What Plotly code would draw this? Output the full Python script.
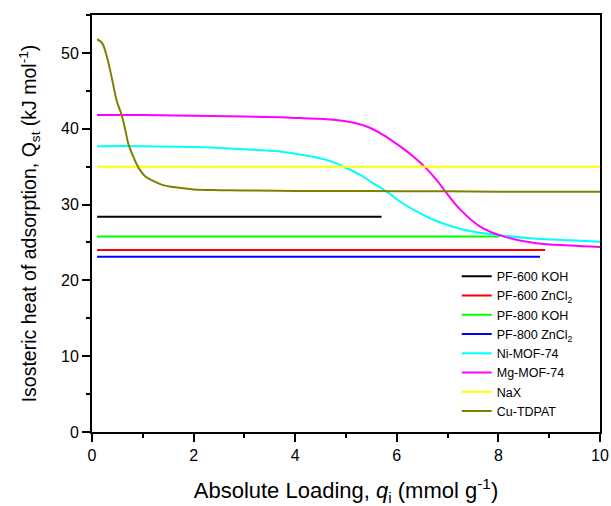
import plotly.graph_objects as go

# ---- data ----
pf600koh_x = [0.1, 5.7]
pf600koh_y = [28.4, 28.4]
pf600zn_x = [0.1, 8.92]
pf600zn_y = [24.0, 24.0]
pf800koh_x = [0.1, 8.02]
pf800koh_y = [25.8, 25.8]
pf800zn_x = [0.1, 8.82]
pf800zn_y = [23.1, 23.1]
ni_x = [0.1, 1.0, 2.0, 3.0, 3.7, 4.09, 4.42, 4.75, 4.95, 5.28, 5.54, 5.8, 6.06, 6.39, 6.72,
        7.05, 7.44, 8.1, 8.75, 9.41, 10.0]
ni_y = [37.7, 37.7, 37.6, 37.3, 37.0, 36.6, 36.2, 35.6, 35.0, 33.9, 32.8, 31.7, 30.4, 29.1, 28.0,
        27.2, 26.5, 25.9, 25.5, 25.3, 25.1]
mg_x = [0.1, 1.0, 2.0, 3.0, 3.7, 4.09, 4.75, 5.08, 5.41, 5.73, 6.06, 6.33, 6.56, 6.79, 6.98,
        7.24, 7.64, 8.1, 8.75, 9.41, 10.0]
mg_y = [41.8, 41.8, 41.7, 41.6, 41.5, 41.4, 41.2, 40.9, 40.3, 39.2, 37.7, 36.3, 34.9, 33.2, 31.5,
        29.4, 27.1, 25.8, 24.9, 24.6, 24.4]
nax_x = [0.1, 10.0]
nax_y = [35.0, 35.0]
cu_x = [0.1, 0.2, 0.3, 0.39, 0.49, 0.58, 0.66, 0.72, 0.82, 0.92, 1.05, 1.21, 1.38, 1.6, 2.0,
        2.5, 3.0, 4.0, 5.0, 6.0, 7.0, 8.0, 9.0, 10.0]
cu_y = [51.8, 51.3, 49.3, 46.7, 43.6, 41.9, 39.7, 37.9, 36.2, 34.8, 33.7, 33.1, 32.6, 32.3, 32.0,
        31.9, 31.85, 31.8, 31.8, 31.75, 31.75, 31.7, 31.7, 31.7]

series = [
    ("PF-600 KOH", pf600koh_x, pf600koh_y, "#000000"),
    ("PF-600 ZnCl<sub>2</sub>", pf600zn_x, pf600zn_y, "#FF0000"),
    ("PF-800 KOH", pf800koh_x, pf800koh_y, "#00FF00"),
    ("PF-800 ZnCl<sub>2</sub>", pf800zn_x, pf800zn_y, "#0000FF"),
    ("Ni-MOF-74", ni_x, ni_y, "#00FFFF"),
    ("Mg-MOF-74", mg_x, mg_y, "#FF00FF"),
    ("NaX", nax_x, nax_y, "#FFFF00"),
    ("Cu-TDPAT", cu_x, cu_y, "#808000"),
]

fig = go.Figure()
for name, xs, ys, col in series:
    fig.add_trace(go.Scatter(
        x=xs, y=ys, name=name, mode="lines",
        line=dict(color=col, width=2, shape="spline", smoothing=1.0),
    ))

font_family = "Liberation Sans, Arial, sans-serif"
axis_common = dict(
    showline=True, linecolor="#000000", linewidth=2, mirror=True,
    ticks="outside", ticklen=8, tickwidth=2, tickcolor="#000000",
    showgrid=False, zeroline=False, automargin=False,
    tickfont=dict(size=16, color="#000000", family=font_family),
)

fig.update_layout(
    width=611, height=506,
    margin=dict(l=92, r=11, t=15, b=74),
    paper_bgcolor="white", plot_bgcolor="white",
    font=dict(family=font_family, color="#000000"),
    showlegend=True,
    legend=dict(
        x=0.718, y=0.015, xanchor="left", yanchor="bottom",
        bgcolor="rgba(0,0,0,0)", font=dict(size=12.5, family=font_family),
        tracegroupgap=0, itemwidth=30,
    ),
    xaxis=dict(
        range=[0, 10], dtick=2, tick0=0,
        minor=dict(ticks="outside", ticklen=4, tickwidth=2, dtick=1, tickcolor="#000000"),
        title=dict(text="Absolute Loading, <i>q</i><sub>i</sub> (mmol g<sup>-1</sup>)",
                   font=dict(size=22), standoff=20),
        **axis_common,
    ),
    yaxis=dict(
        range=[0, 55], dtick=10, tick0=0,
        minor=dict(ticks="outside", ticklen=4, tickwidth=2, dtick=5, tickcolor="#000000"),
        title=dict(text="Isosteric heat of adsorption, Q<sub>st</sub> (kJ mol<sup>-1</sup>)",
                   font=dict(size=19.5), standoff=19),
        **axis_common,
    ),
)

# remove the default 8px body margin so the figure fills the window exactly
fig.write_html("out.html",
               config={"displayModeBar": False},
               post_script="document.body.style.margin='0';document.body.style.overflow='hidden';")
